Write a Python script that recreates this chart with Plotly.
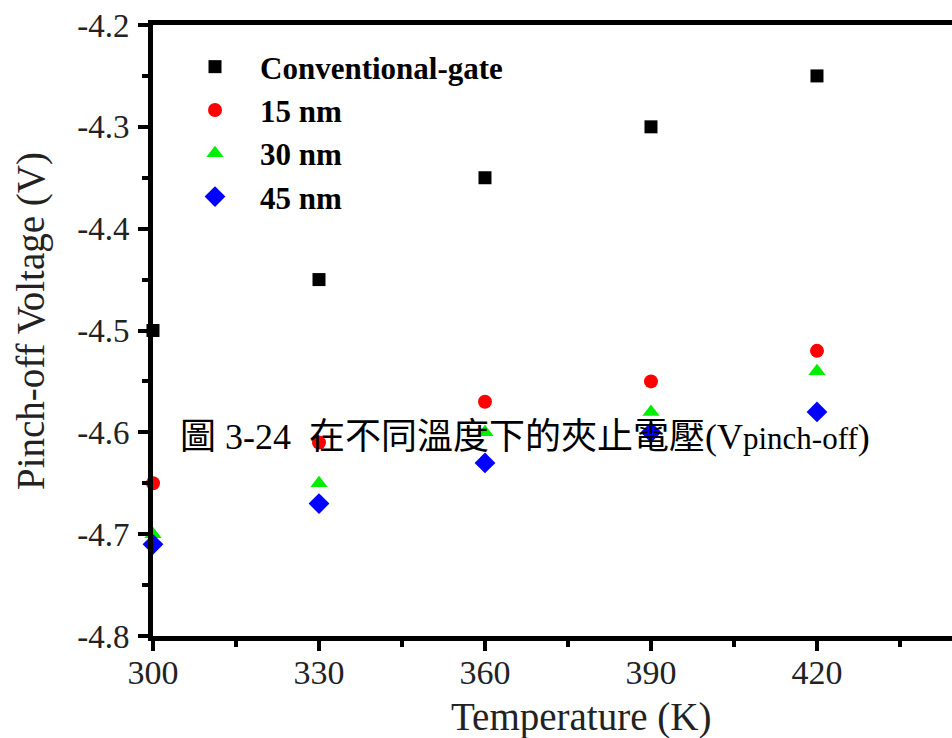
import plotly.graph_objects as go

temps = [300, 330, 360, 390, 420]
conventional = [-4.50, -4.45, -4.35, -4.30, -4.25]
nm15 = [-4.65, -4.61, -4.57, -4.55, -4.52]
nm30 = [-4.70, -4.65, -4.60, -4.58, -4.54]
nm45 = [-4.71, -4.67, -4.63, -4.60, -4.58]

x_ticks = [300, 330, 360, 390, 420]
y_ticks = [-4.8, -4.7, -4.6, -4.5, -4.4, -4.3, -4.2]
y_ticktext = ["-4.8", "-4.7", "-4.6", "-4.5", "-4.4", "-4.3", "-4.2"]

series = [
    ("Conventional-gate", conventional, "square", "#000000", 13),
    ("15 nm", nm15, "circle", "#ff0000", 14),
    ("30 nm", nm30, "triangle-up", "#00ee00", 15),
    ("45 nm", nm45, "diamond", "#0000ff", 16),
]

fig = go.Figure()
for name, vals, sym, col, sz in series:
    fig.add_trace(go.Scatter(
        x=temps, y=vals, mode="markers", name=name,
        marker=dict(symbol=sym, color=col, size=sz, line=dict(width=0)),
        cliponaxis=False,
    ))

serif = "Liberation Serif, Times New Roman, serif"
L, R, T, B = 153, 0, 25, 102
W, H = 952, 738
pw, ph = W - L - R, H - T - B

fig.update_layout(
    width=W, height=H,
    margin=dict(l=L, r=R, t=T, b=B),
    paper_bgcolor="white", plot_bgcolor="white",
    showlegend=True,
    legend=dict(
        x=(170 - L) / pw, y=1 - (40 - T) / ph, xanchor="left", yanchor="top",
        bgcolor="rgba(0,0,0,0)",
        font=dict(family=serif, size=31, color="black", weight="bold"),
        itemsizing="trace", tracegroupgap=0, itemwidth=80,
    ),
    font=dict(family=serif, color="black"),
)

fig.update_xaxes(
    range=[300, 444.4], tickvals=x_ticks, ticktext=[str(v) for v in x_ticks],
    showgrid=False, zeroline=False,
    showline=True, linecolor="black", linewidth=5, mirror=True,
    ticks="outside", ticklen=10, tickwidth=4, tickcolor="black",
    tickfont=dict(family=serif, size=34, color="#222"),
    ticklabelstandoff=-8,
    minor=dict(ticks="outside", ticklen=6, tickwidth=4, tickcolor="black", dtick=15, tick0=300),
)
fig.update_yaxes(
    range=[-4.8, -4.2], tickvals=y_ticks, ticktext=y_ticktext,
    showgrid=False, zeroline=False,
    showline=True, linecolor="black", linewidth=5, mirror=False,
    ticks="outside", ticklen=10, tickwidth=4, tickcolor="black",
    tickfont=dict(family=serif, size=33, color="#222"),
    ticklabelstandoff=2,
    minor=dict(ticks="outside", ticklen=6, tickwidth=4, tickcolor="black", dtick=0.05),
)

# axis titles placed as annotations to match the reference positions
fig.add_annotation(
    xref="paper", yref="paper", x=(581 - L) / pw, y=-(717 - (T + ph)) / ph,
    xanchor="center", yanchor="middle", showarrow=False,
    text="Temperature (K)",
    font=dict(family=serif, size=39, color="#222"),
)
fig.add_annotation(
    xref="paper", yref="paper", x=-(L - 31) / pw, y=1 - (321 - T) / ph,
    xanchor="center", yanchor="middle", showarrow=False, textangle=-90,
    text="Pinch-off Voltage (V)",
    font=dict(family=serif, size=39, color="#222"),
)

fig.add_annotation(
    xref="paper", yref="paper", x=(178 - L) / pw, y=1 - (437 - T) / ph,
    xanchor="left", yanchor="middle", showarrow=False,
    text='圖 3-24&nbsp; 在不同溫度下的夾止電壓(V<span style="font-size:31px">pinch-off</span>)',
    font=dict(family="Liberation Serif, Noto Sans CJK TC, serif", size=36, color="black"),
)

fig.write_html("out.html")
